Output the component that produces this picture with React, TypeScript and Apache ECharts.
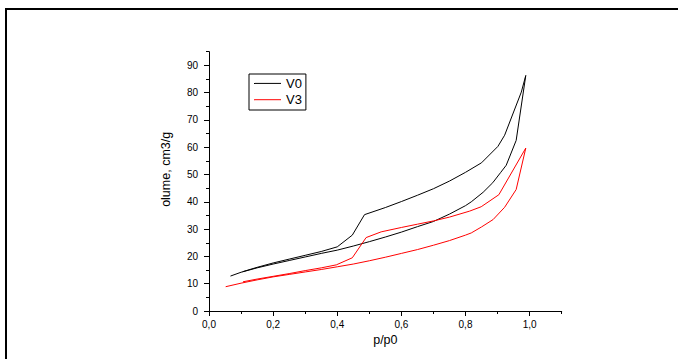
import React, { useEffect, useRef } from "react";
import * as echarts from "echarts";

const seriesNames = ["V0", "V3"];
const seriesColors = ["#000000", "#ff0000"];

// V0: adsorption branch then desorption branch [p/p0, volume]
const v0P = [0.067, 0.1, 0.15, 0.2, 0.25, 0.3, 0.35, 0.4, 0.45, 0.5, 0.55, 0.6, 0.65, 0.7, 0.75, 0.8, 0.818, 0.855, 0.885, 0.91, 0.927, 0.958, 0.988,
  0.974, 0.922, 0.901, 0.85, 0.8, 0.75, 0.7, 0.65, 0.6, 0.55, 0.485, 0.447, 0.4, 0.35, 0.3, 0.25, 0.2, 0.15, 0.105];
const v0V = [12.8, 14.2, 15.8, 17.2, 18.5, 19.8, 21.1, 22.3, 23.8, 25.4, 27.1, 28.9, 30.9, 32.8, 35.5, 38.6, 40.0, 43.5, 47.0, 50.8, 53.4, 62.5, 86.3,
  80.2, 64.4, 60.3, 54.3, 50.8, 47.6, 44.8, 42.4, 40.1, 37.9, 35.3, 27.8, 23.5, 21.8, 20.4, 19.0, 17.6, 16.0, 14.4];

// V3: adsorption branch then desorption branch
const v3P = [0.052, 0.1, 0.15, 0.2, 0.25, 0.3, 0.35, 0.4, 0.45, 0.5, 0.55, 0.6, 0.65, 0.7, 0.75, 0.8, 0.818, 0.85, 0.886, 0.922, 0.958, 0.988,
  0.904, 0.849, 0.813, 0.75, 0.7, 0.65, 0.6, 0.537, 0.49, 0.447, 0.397, 0.35, 0.3, 0.25, 0.2, 0.15, 0.106];
const v3V = [8.9, 10.2, 11.4, 12.5, 13.4, 14.3, 15.2, 16.2, 17.2, 18.4, 19.7, 21.1, 22.5, 24.1, 25.8, 27.8, 28.6, 30.8, 33.5, 38.0, 44.5, 59.7,
  42.6, 38.2, 36.6, 34.4, 33.0, 31.8, 30.6, 29.0, 26.9, 19.5, 16.9, 15.8, 14.8, 13.7, 12.7, 11.7, 10.7];

const xMajorTicks = [0, 0.2, 0.4, 0.6, 0.8, 1.0];
const xMinorTicks = [0.1, 0.3, 0.5, 0.7, 0.9, 1.1];
const yMajorTicks = [0, 10, 20, 30, 40, 50, 60, 70, 80, 90];
const yMinorTicks = [5, 15, 25, 35, 45, 55, 65, 75, 85, 95];

const xName = "p/p0";
const yName = "olume, cm3/g";

function pairs(p: number[], v: number[]) {
  return p.map((x, i) => [x, v[i]]);
}

export default function App() {
  const ref = useRef<HTMLDivElement>(null);
  useEffect(() => {
    if (!ref.current) return;
    const chart = echarts.init(ref.current, null, { renderer: "svg" });
    const font = "'Liberation Sans', Arial, sans-serif";
    const axisLine = { show: true, lineStyle: { color: "#000", width: 1 } };
    chart.setOption({
      animation: false,
      backgroundColor: "#fff",
      textStyle: { fontFamily: font },
      grid: { left: 209, top: 51.7, right: 116.3, bottom: 48 },
      graphic: [
        {
          type: "rect",
          shape: { x: 6, y: 9, width: 720, height: 400 },
          style: { fill: "none", stroke: "#000", lineWidth: 2 },
          silent: true,
        },
      ],
      legend: {
        orient: "vertical",
        left: 249,
        top: 74,
        padding: [2.4, 4, 3.3, 5],
        itemGap: 2.3,
        itemWidth: 27,
        itemHeight: 1,
        icon: "rect",
        borderColor: "#000",
        borderWidth: 1,
        textStyle: { fontSize: 13, color: "#000", lineHeight: 14, fontFamily: font, padding: [0, 0, 0, 0] },
        data: seriesNames,
      },
      xAxis: [
        {
          type: "value",
          min: 0,
          max: 1.1,
          position: "bottom",
          name: xName,
          nameLocation: "middle",
          nameGap: 20,
          nameTextStyle: { fontSize: 12.5, color: "#000", fontFamily: font },
          axisLine,
          axisTick: { show: true, length: 5, customValues: xMajorTicks, lineStyle: { color: "#000" } },
          axisLabel: {
            customValues: xMajorTicks,
            margin: 8,
            fontSize: 10,
            color: "#000",
            fontFamily: font,
            formatter: (v: number) => v.toFixed(1).replace(".", ","),
          },
          splitLine: { show: false },
        },
        {
          type: "value",
          min: 0,
          max: 1.1,
          position: "bottom",
          axisLine: { show: false },
          axisTick: { show: true, length: 3, customValues: xMinorTicks, lineStyle: { color: "#000" } },
          axisLabel: { show: false },
          splitLine: { show: false },
        },
      ],
      yAxis: [
        {
          type: "value",
          min: 0,
          max: 95,
          position: "left",
          name: yName,
          nameLocation: "middle",
          nameGap: 37,
          nameTextStyle: { fontSize: 12.5, color: "#000", fontFamily: font, padding: [0, 0, 0, 24] },
          axisLine,
          axisTick: { show: true, length: 5, customValues: yMajorTicks, lineStyle: { color: "#000" } },
          axisLabel: { customValues: yMajorTicks, margin: 11, fontSize: 10, color: "#000", fontFamily: font },
          splitLine: { show: false },
        },
        {
          type: "value",
          min: 0,
          max: 95,
          position: "left",
          axisLine: { show: false },
          axisTick: { show: true, length: 3, customValues: yMinorTicks, lineStyle: { color: "#000" } },
          axisLabel: { show: false },
          splitLine: { show: false },
        },
      ],
      series: [
        {
          name: seriesNames[0],
          type: "line",
          xAxisIndex: 0,
          yAxisIndex: 0,
          data: pairs(v0P, v0V),
          symbol: "none",
          color: seriesColors[0],
          lineStyle: { color: seriesColors[0], width: 1 },
        },
        {
          name: seriesNames[1],
          type: "line",
          xAxisIndex: 0,
          yAxisIndex: 0,
          data: pairs(v3P, v3V),
          symbol: "none",
          color: seriesColors[1],
          lineStyle: { color: seriesColors[1], width: 1 },
        },
      ],
    });
    return () => chart.dispose();
  }, []);
  return (
    <div
      ref={ref}
      style={{ position: "fixed", left: 0, top: 0, width: 678, height: 359 }}
    />
  );
}
